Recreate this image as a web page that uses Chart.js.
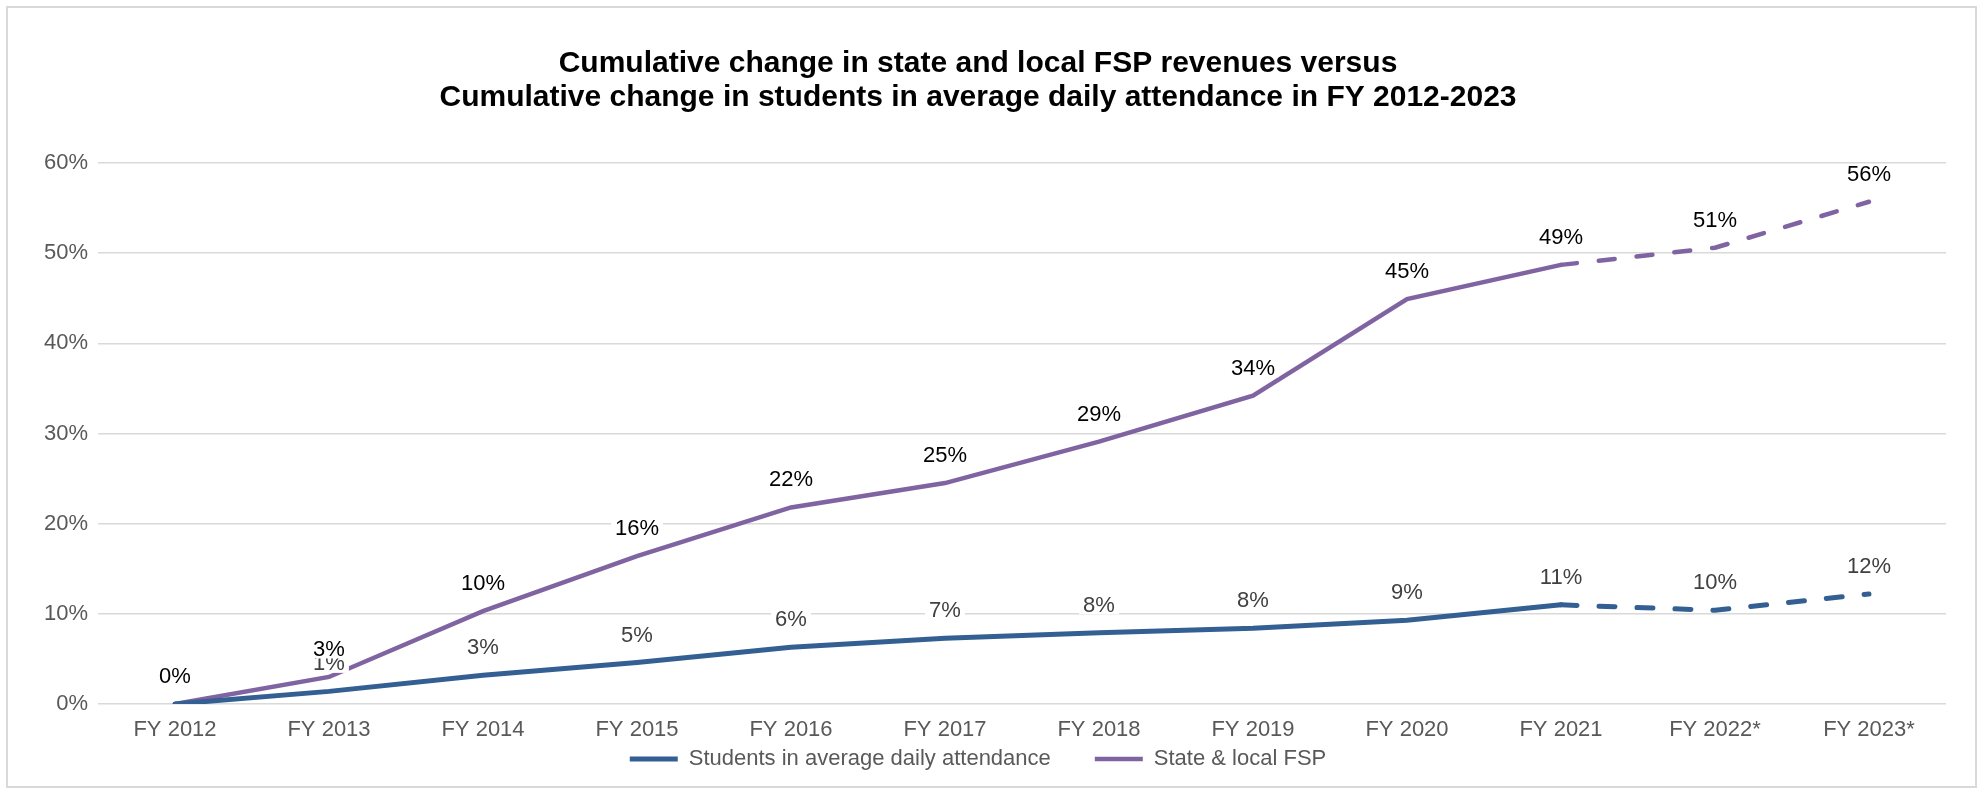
<!DOCTYPE html>
<html>
<head>
<meta charset="utf-8">
<script src="https://cdn.jsdelivr.net/npm/chart.js@4"></script>
<style>
  html, body { margin: 0; padding: 0; background: #fff; }
  .wrap { position: relative; width: 1981px; height: 790px; }
  .frame { position: absolute; left: 6px; top: 6px; width: 1967px; height: 778px;
           border: 2px solid #d9d9d9; pointer-events: none; }
</style>
</head>
<body>
<div class="wrap">
  <canvas class="chart" width="1981" height="790"></canvas>
  <div class="frame"></div>
</div>
<script>
const YEARS = ["FY 2012", "FY 2013", "FY 2014", "FY 2015", "FY 2016", "FY 2017",
               "FY 2018", "FY 2019", "FY 2020", "FY 2021", "FY 2022*", "FY 2023*"];
// cumulative change, percent
const STUDENTS = [0, 1.4, 3.2, 4.6, 6.3, 7.3, 7.9, 8.4, 9.3, 11.0, 10.4, 12.2];
const FSP = [0, 3.0, 10.3, 16.4, 21.8, 24.5, 29.1, 34.2, 44.9, 48.7, 50.6, 55.7];
const Y_TICKS = [0, 10, 20, 30, 40, 50, 60];

const BLUE = '#345f92';
const PURPLE = '#8064a2';
const LABEL_COLORS = ['#404040', '#000000'];
const FONT = '"Liberation Sans", Arial, sans-serif';

// projected years are dashed
const dashAfter = (ctx) => ctx.p0DataIndex >= 9 ? [16, 22] : undefined;

const valueLabels = {
  id: 'valueLabels',
  afterDatasetsDraw(chart) {
    const ctx = chart.ctx;
    ctx.save();
    ctx.font = '22px ' + FONT;
    ctx.textAlign = 'center';
    ctx.textBaseline = 'middle';
    chart.data.datasets.forEach((ds, di) => {
      chart.getDatasetMeta(di).data.forEach((pt, i) => {
        const text = Math.round(ds.data[i]) + '%';
        const w = ctx.measureText(text).width + 8;
        const y = pt.y - 28;
        ctx.fillStyle = '#fff';
        ctx.fillRect(pt.x - w / 2, y - 9, w, 18.5);
        ctx.fillStyle = LABEL_COLORS[di];
        ctx.fillText(text, pt.x, y + 1);
      });
    });
    ctx.restore();
  }
};

new Chart(document.querySelector('.chart').getContext('2d'), {
  type: 'line',
  data: {
    labels: YEARS,
    datasets: [{
      label: 'Students in average daily attendance',
      data: STUDENTS,
      borderColor: BLUE,
      backgroundColor: BLUE,
      borderWidth: 5,
      borderCapStyle: 'round',
      pointRadius: 0,
      segment: { borderDash: dashAfter }
    }, {
      label: 'State & local FSP',
      data: FSP,
      borderColor: PURPLE,
      backgroundColor: PURPLE,
      borderWidth: 4.5,
      borderCapStyle: 'round',
      pointRadius: 0,
      segment: { borderDash: dashAfter }
    }]
  },
  options: {
    responsive: false,
    animation: false,
    layout: {
      padding: { top: 10, left: 10, right: 35, bottom: 10 }
    },
    scales: {
      x: {
        offset: true,
        grid: { display: false, drawTicks: false },
        border: { display: false },
        ticks: { color: '#595959', font: { family: FONT, size: 22 }, padding: 13, maxRotation: 0 },
        afterFit: (scale) => {
          // legend sits right under the tick labels; keep labels unclipped
          scale.height = 0;
          scale._computeLabelArea = () => null;
        }
      },
      y: {
        min: 0,
        max: 60,
        afterBuildTicks: (scale) => { scale.ticks = Y_TICKS.map(v => ({ value: v })); },
        grid: { color: '#d9d9d9', lineWidth: 1.5, drawTicks: false },
        border: { display: false },
        ticks: {
          color: '#595959',
          font: { family: FONT, size: 22 },
          padding: 10,
          callback: (v) => v + '%'
        },
        afterFit: (scale) => { scale.width = 88; }
      }
    },
    plugins: {
      title: {
        display: true,
        text: ['Cumulative change in state and local FSP revenues versus',
               'Cumulative change in students in average daily attendance in FY 2012-2023'],
        color: '#000',
        font: { family: FONT, size: 30, weight: 'bold', lineHeight: 1.15 },
        padding: { top: 36, bottom: 48 }
      },
      legend: {
        position: 'bottom',
        labels: {
          color: '#595959',
          font: { family: FONT, size: 22 },
          usePointStyle: true,
          pointStyle: 'line',
          pointStyleWidth: 48,
          padding: 44
        }
      },
      tooltip: { enabled: false }
    }
  },
  plugins: [valueLabels]
});
</script>
</body>
</html>
